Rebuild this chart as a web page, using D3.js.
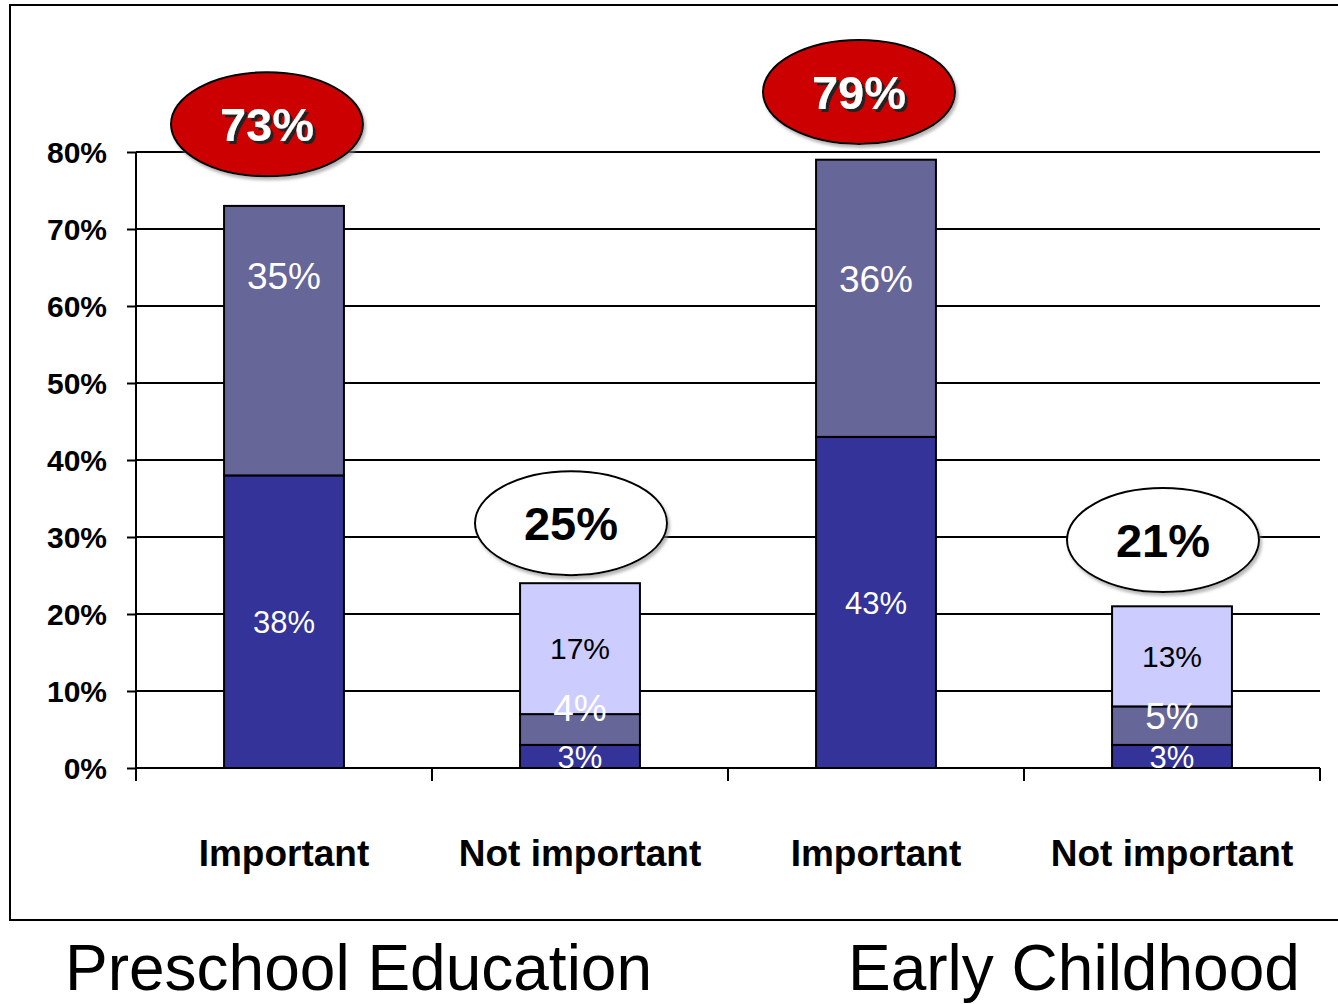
<!DOCTYPE html>
<html><head><meta charset="utf-8">
<script src="https://cdn.jsdelivr.net/npm/d3@7"></script>
<style>body{margin:0;background:#fff}svg{display:block}</style>
</head><body>
<svg id="c" width="1338" height="1004"></svg>
<script>
const categories = ["Important", "Not important", "Important", "Not important"];
const groups = ["Preschool Education", "Early Childhood"];
const seriesDark = [38, 3, 43, 3];
const seriesMid = [35, 4, 36, 5];
const seriesLight = [0, 17, 0, 13];
const calloutLabels = ["73%", "25%", "79%", "21%"];
const calloutHighlight = [true, false, true, false];
const calloutAt = [83.6, 31.8, 87.8, 29.6];   // vertical value where callout sits
const midLabelAt = [64, 7.8, 63.5, 6.8];       // value where middle label sits
const yTicks = [0, 10, 20, 30, 40, 50, 60, 70, 80];

const svg = d3.select("#c");
const FONT = "'Liberation Sans', Arial, Helvetica, sans-serif";
const colors = ["#333399", "#666699", "#CCCCFF"];
const series = [seriesDark, seriesMid, seriesLight];

const defs = svg.append("defs");
const f = defs.append("filter").attr("id", "tshadow").attr("x", "-20%").attr("y", "-20%").attr("width", "140%").attr("height", "140%");
f.append("feDropShadow").attr("dx", 3).attr("dy", 3).attr("stdDeviation", 0.5).attr("flood-color", "#222").attr("flood-opacity", 1);
const f2 = defs.append("filter").attr("id", "eshadow").attr("x", "-20%").attr("y", "-20%").attr("width", "140%").attr("height", "140%");
f2.append("feDropShadow").attr("dx", 2).attr("dy", 3).attr("stdDeviation", 1.5).attr("flood-color", "#888").attr("flood-opacity", 0.6);

// outer frame
svg.append("rect").attr("x", 10).attr("y", 5).attr("width", 1340).attr("height", 915)
  .attr("fill", "none").attr("stroke", "#000").attr("stroke-width", 2);

const ids = categories.map((c, i) => i);
const x = d3.scaleBand().domain(ids).range([136, 1320]).paddingInner(0.595).paddingOuter(0.2975);
const y = d3.scaleLinear().domain([0, 80]).range([768, 152]);

// gridlines
svg.append("g").selectAll("line").data(yTicks).join("line")
  .attr("x1", 136).attr("x2", 1320).attr("y1", d => y(d)).attr("y2", d => y(d))
  .attr("stroke", "#000").attr("stroke-width", 2);

// y axis
const yAxis = svg.append("g").attr("transform", "translate(136,0)")
  .call(d3.axisLeft(y).tickValues(yTicks).tickFormat(d => d + "%").tickSize(9).tickPadding(20));
yAxis.select(".domain").remove();
yAxis.selectAll(".tick line").attr("stroke", "#000").attr("stroke-width", 2);
yAxis.selectAll(".tick text").attr("font-family", FONT).attr("font-weight", "bold")
  .attr("font-size", 30).attr("fill", "#000").attr("dy", "0.36em");
svg.append("line").attr("x1", 136).attr("x2", 136).attr("y1", y(80)).attr("y2", 781)
  .attr("stroke", "#000").attr("stroke-width", 2);

// x boundary ticks
const step = x.step();
const bounds = ids.map(i => x(i) - (step - x.bandwidth()) / 2).concat([x(ids[ids.length - 1]) + x.bandwidth() + (step - x.bandwidth()) / 2]);
svg.append("g").selectAll("line").data(bounds).join("line")
  .attr("x1", d => d).attr("x2", d => d).attr("y1", 768).attr("y2", 781)
  .attr("stroke", "#000").attr("stroke-width", 2);

// stacked bars
const stackData = ids.map(i => {
  let base = 0;
  return series.map((s, k) => { const seg = { i, k, y0: base, y1: base + s[i], v: s[i] }; base += s[i]; return seg; });
});
const segs = stackData.flat().filter(d => d.v > 0);
svg.append("g").selectAll("rect").data(segs).join("rect")
  .attr("x", d => x(d.i)).attr("width", x.bandwidth())
  .attr("y", d => y(d.y1)).attr("height", d => y(d.y0) - y(d.y1))
  .attr("fill", d => colors[d.k]).attr("stroke", "#000").attr("stroke-width", 2);

// baseline on top
svg.append("line").attr("x1", 136).attr("x2", 1320).attr("y1", 768).attr("y2", 768)
  .attr("stroke", "#000").attr("stroke-width", 2);

// segment labels
const fs = [31, 37, 30];
svg.append("g").selectAll("text").data(segs).join("text")
  .attr("x", d => x(d.i) + x.bandwidth() / 2)
  .attr("y", d => d.k === 1 ? y(midLabelAt[d.i]) : y((d.y0 + d.y1) / 2))
  .attr("dy", "0.36em").attr("text-anchor", "middle")
  .attr("font-family", FONT).attr("font-size", d => fs[d.k])
  .attr("fill", d => d.k === 2 ? "#000" : "#fff")
  .text(d => d.v + "%");

// callouts
const cg = svg.append("g").selectAll("g").data(ids).join("g")
  .attr("transform", i => `translate(${x(i) + x.bandwidth() / 2 - (calloutHighlight[i] ? 17 : 9)},${y(calloutAt[i])})`);
cg.append("ellipse").attr("rx", 96).attr("ry", 52).attr("filter", "url(#eshadow)")
  .attr("fill", i => calloutHighlight[i] ? "#CC0000" : "#fff").attr("stroke", "#000").attr("stroke-width", 2);
cg.append("text").attr("dy", "0.36em").attr("text-anchor", "middle")
  .attr("font-family", FONT).attr("font-weight", "bold").attr("font-size", 47)
  .attr("fill", i => calloutHighlight[i] ? "#fff" : "#000")
  .attr("filter", i => calloutHighlight[i] ? "url(#tshadow)" : null)
  .text(i => calloutLabels[i]);

// category labels
svg.append("g").selectAll("text").data(ids).join("text")
  .attr("x", i => x(i) + x.bandwidth() / 2).attr("y", 866).attr("text-anchor", "middle")
  .attr("font-family", FONT).attr("font-weight", "bold").attr("font-size", 37).attr("fill", "#000")
  .text(i => categories[i]);

// group labels
const groupX = [65, 848];
svg.append("g").selectAll("text").data(groups).join("text")
  .attr("x", (d, j) => groupX[j]).attr("y", 990)
  .attr("font-family", FONT).attr("font-size", 64).attr("fill", "#000")
  .text(d => d);
</script>
</body></html>
